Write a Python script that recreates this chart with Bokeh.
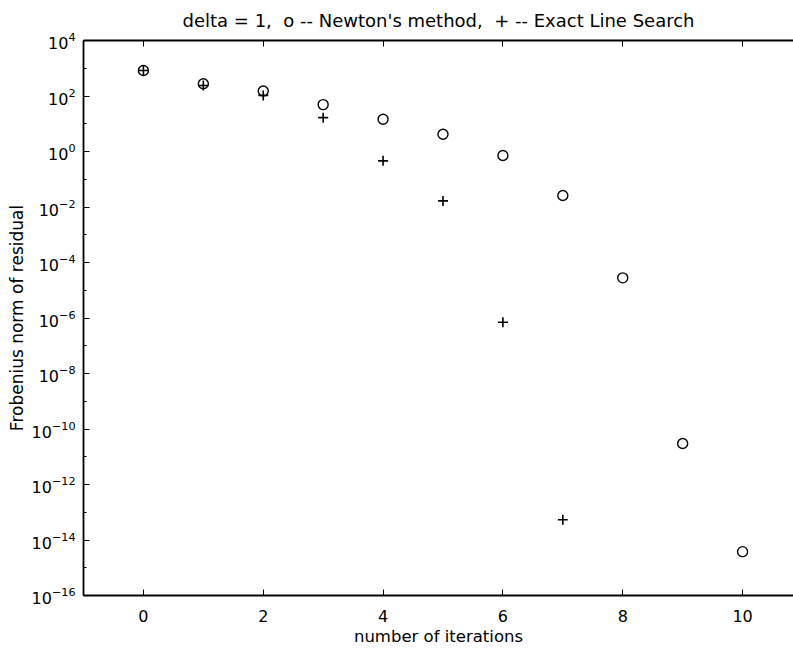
from bokeh.plotting import figure
from bokeh.models import LinearAxis, FixedTicker, Range1d, CustomJSTickFormatter
from bokeh.embed import file_html
from bokeh.resources import INLINE

# data
newton_iter = [0, 1, 2, 3, 4, 5, 6, 7, 8, 9, 10]
newton_res = [830, 277, 151, 49, 14.5, 4.2, 0.72, 0.026, 2.8e-5, 3.0e-11, 3.8e-15]
els_iter = [0, 1, 2, 3, 4, 5, 6, 7]
els_res = [830, 240, 105, 16.6, 0.46, 0.0166, 7.0e-7, 5.4e-14]

x_ticks = [0, 2, 4, 6, 8, 10]
y_ticks = [1e-16, 1e-14, 1e-12, 1e-10, 1e-8, 1e-6, 1e-4, 1e-2, 1e0, 1e2, 1e4]
y_minor = [1e-15, 1e-13, 1e-11, 1e-9, 1e-7, 1e-5, 1e-3, 1e-1, 1e1, 1e3]

FONT = "DejaVu Sans"

p = figure(width=793, height=648, y_axis_type="log",
           x_range=Range1d(-1, 10.85), y_range=Range1d(1e-16, 1e4),
           output_backend="svg", toolbar_location=None,
           min_border_left=83, min_border_right=0, min_border_top=40, min_border_bottom=52,
           title="delta = 1,\u00a0 o -- Newton's method,\u00a0 + -- Exact Line Search")

p.outline_line_color = None
p.xgrid.visible = False
p.ygrid.visible = False
p.background_fill_color = "white"
p.border_fill_color = "white"

p.title.text_font = FONT
p.title.text_font_size = "18px"
p.title.text_font_style = "normal"
p.title.align = "center"
p.title.vertical_align = "top"
p.title.text_color = "black"
p.title.standoff = 16

for ax in (p.xaxis[0], p.yaxis[0]):
    ax.axis_line_width = 1.8
    ax.axis_line_color = "black"
    ax.major_tick_in = 6
    ax.major_tick_out = 0
    ax.minor_tick_in = 3
    ax.minor_tick_out = 0
    ax.major_tick_line_color = "black"
    ax.minor_tick_line_color = "black"
    ax.major_label_text_font = FONT
    ax.major_label_text_font_size = "16px"
    ax.major_label_text_color = "black"
    ax.axis_label_text_font = FONT
    ax.axis_label_text_font_style = "normal"
    ax.axis_label_text_color = "black"

p.xaxis.ticker = FixedTicker(ticks=x_ticks)
p.xaxis.minor_tick_line_color = None
p.xaxis.axis_label = "number of iterations"
p.xaxis.axis_label_text_font_size = "16.5px"
p.xaxis.major_label_standoff = 14
p.xaxis.axis_label_standoff = 2

p.yaxis.ticker = FixedTicker(ticks=y_ticks, minor_ticks=y_minor)
p.yaxis.axis_label = "Frobenius norm of residual"
p.yaxis.axis_label_text_font_size = "17px"
p.yaxis.major_label_standoff = 8
p.yaxis.axis_label_standoff = 2

top = LinearAxis(ticker=FixedTicker(ticks=x_ticks),
                 formatter=CustomJSTickFormatter(code="return ''"),
                 major_tick_in=6, major_tick_out=0, minor_tick_line_color=None,
                 axis_line_width=1.8, major_label_standoff=0)
p.add_layout(top, "above")

p.scatter(newton_iter, newton_res, marker="circle", size=10, fill_color=None,
          line_color="black", line_width=1.4)
p.scatter(els_iter, els_res, marker="cross", size=10,
          line_color="black", line_width=1.6)

open("out.html", "w").write(file_html(p, INLINE))
